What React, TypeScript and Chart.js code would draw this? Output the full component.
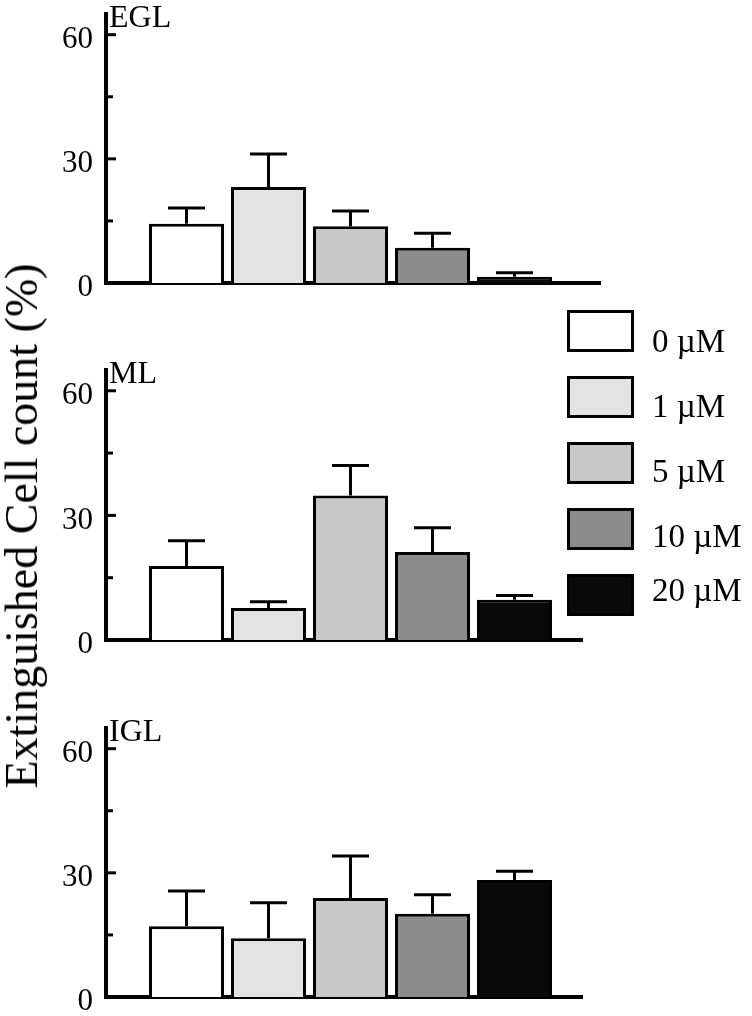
import React, { useEffect, useRef } from 'react';
import { Chart, registerables } from 'chart.js';

Chart.register(...registerables);

// ---------- data ----------
const categories = ['0 µM', '1 µM', '5 µM', '10 µM', '20 µM'];
const panelNames = ['EGL', 'ML', 'IGL'];
const eglMeans = [14.3, 23.2, 13.7, 8.5, 1.5];
const eglErrors = [3.8, 8.0, 3.7, 3.5, 1.0];
const mlMeans = [17.8, 7.7, 34.8, 21.2, 9.7];
const mlErrors = [6.1, 1.5, 7.2, 5.8, 1.0];
const iglMeans = [17.1, 14.2, 23.9, 20.1, 28.3];
const iglErrors = [8.5, 8.6, 10.2, 4.6, 2.1];
const yTickValues = [0, 15, 30, 45, 60];
const yLabelledTicks = [0, 30, 60];
const yMax = 65;
const yAxisTitle = 'Extinguished Cell count (%)';

// ---------- styles / layout ----------
const barColors = ['#ffffff', '#e3e3e3', '#c8c8c8', '#8c8c8c', '#0a0a0a'];
const SERIF = '"Liberation Serif", "Times New Roman", serif';
const W = 752;
const H = 1016;
const PLOT_LEFT = 106;
const BAR_SPACING = 82;
const FIRST_BAR_CENTER = 186.5;
const BAR_WIDTH = 75;
const PAD = 40;
const panelTops = [14, 370, 728];
const panelBottoms = [283, 640, 997];
const panelRights = [600, 582, 582];
const legendBoxTops = [310, 376, 442, 508, 574];
const legendTextBaselines = [353, 418, 483, 548, 602];

const panelMeans = [eglMeans, mlMeans, iglMeans];
const panelErrors = [eglErrors, mlErrors, iglErrors];

function Panel({ index }: { index: number }) {
  const ref = useRef<HTMLCanvasElement | null>(null);
  const top = panelTops[index];
  const bottom = panelBottoms[index];
  const right = panelRights[index];
  const means = panelMeans[index];
  const errors = panelErrors[index];
  const canvasH = bottom - top + 2 * PAD;

  useEffect(() => {
    if (!ref.current) return;
    const xMin = 1 - (FIRST_BAR_CENTER - PLOT_LEFT) / BAR_SPACING;
    const xMax = xMin + (right - PLOT_LEFT) / BAR_SPACING;

    const errorBars = {
      id: 'errorBars',
      afterDatasetsDraw(chart: any) {
        const ctx = chart.ctx;
        const ys = chart.scales.y;
        const meta = chart.getDatasetMeta(0);
        ctx.save();
        ctx.strokeStyle = '#000';
        ctx.lineWidth = 3;
        meta.data.forEach((el: any, i: number) => {
          const yTop = ys.getPixelForValue(means[i] + errors[i]);
          ctx.beginPath();
          ctx.moveTo(el.x, el.y);
          ctx.lineTo(el.x, yTop);
          ctx.moveTo(el.x - 18.5, yTop);
          ctx.lineTo(el.x + 18.5, yTop);
          ctx.stroke();
        });
        ctx.restore();
      },
    };

    const innerTicks = {
      id: 'innerTicks',
      afterDraw(chart: any) {
        const ctx = chart.ctx;
        const ys = chart.scales.y;
        const left = chart.chartArea.left;
        ctx.save();
        ctx.strokeStyle = '#000';
        ctx.lineWidth = 3;
        yTickValues.forEach((v) => {
          if (v === 0) return;
          const y = ys.getPixelForValue(v);
          ctx.beginPath();
          ctx.moveTo(left, y);
          ctx.lineTo(left + (yLabelledTicks.includes(v) ? 10 : 7), y);
          ctx.stroke();
        });
        ctx.restore();
      },
    };

    const chart = new Chart(ref.current, {
      type: 'bar',
      data: {
        datasets: [
          {
            label: panelNames[index],
            data: means.map((v, i) => ({ x: i + 1, y: v })),
            backgroundColor: barColors,
            borderColor: '#000',
            borderWidth: 3,
            barPercentage: BAR_WIDTH / BAR_SPACING,
            categoryPercentage: 1,
          },
        ],
      },
      options: {
        responsive: false,
        animation: false,
        devicePixelRatio: 1,
        layout: { padding: { left: 0, right: W - right, top: PAD, bottom: PAD } },
        plugins: { legend: { display: false }, tooltip: { enabled: false }, title: { display: false } },
        scales: {
          x: {
            type: 'linear',
            min: xMin,
            max: xMax,
            offset: false,
            ticks: { display: false },
            grid: { display: false, drawTicks: false },
            border: { display: true, color: '#000', width: 4 },
            afterFit: (s: any) => {
              s.height = 0;
            },
          },
          y: {
            type: 'linear',
            min: 0,
            max: yMax,
            afterBuildTicks: (s: any) => {
              s.ticks = yTickValues.map((v) => ({ value: v }));
            },
            ticks: {
              autoSkip: false,
              callback: (v: any) => (yLabelledTicks.includes(Number(v)) ? String(v) : ''),
              font: { family: SERIF, size: 31 },
              color: '#000',
              padding: 13,
              labelOffset: 5,
            },
            grid: { display: false, drawTicks: false },
            border: { display: true, color: '#000', width: 4 },
            afterFit: (s: any) => {
              s.width = PLOT_LEFT;
            },
          },
        },
      } as any,
      plugins: [errorBars, innerTicks],
    });
    return () => chart.destroy();
  }, [index]);

  return (
    <canvas
      ref={ref}
      width={W}
      height={canvasH}
      style={{ position: 'absolute', left: 0, top: top - PAD, width: W, height: canvasH }}
    />
  );
}

export default function App() {
  return (
    <div
      style={{
        position: 'fixed',
        left: 0,
        top: 0,
        width: W,
        height: H,
        background: '#fff',
        overflow: 'hidden',
        fontFamily: SERIF,
        color: '#000',
      }}
    >
      {panelNames.map((_, i) => (
        <Panel key={i} index={i} />
      ))}
      {panelNames.map((name, i) => (
        <div
          key={'n' + i}
          style={{
            position: 'absolute',
            left: 109,
            top: panelTops[i] - 14,
            fontSize: 32,
            lineHeight: '32px',
            whiteSpace: 'nowrap',
          }}
        >
          {name}
        </div>
      ))}
      <div
        style={{
          position: 'absolute',
          left: 21.5,
          top: 526,
          fontSize: 46,
          lineHeight: '46px',
          whiteSpace: 'nowrap',
          transform: 'translate(-50%, -50%) rotate(-90deg)',
        }}
      >
        {yAxisTitle}
      </div>
      {categories.map((c, i) => (
        <React.Fragment key={'l' + i}>
          <div
            style={{
              position: 'absolute',
              left: 567,
              top: legendBoxTops[i],
              width: 67,
              height: 42,
              boxSizing: 'border-box',
              border: '3px solid #000',
              background: barColors[i],
            }}
          />
          <div
            style={{
              position: 'absolute',
              left: 652,
              top: legendTextBaselines[i] - 28,
              fontSize: 33,
              lineHeight: '33px',
              whiteSpace: 'nowrap',
            }}
          >
            {c}
          </div>
        </React.Fragment>
      ))}
    </div>
  );
}
